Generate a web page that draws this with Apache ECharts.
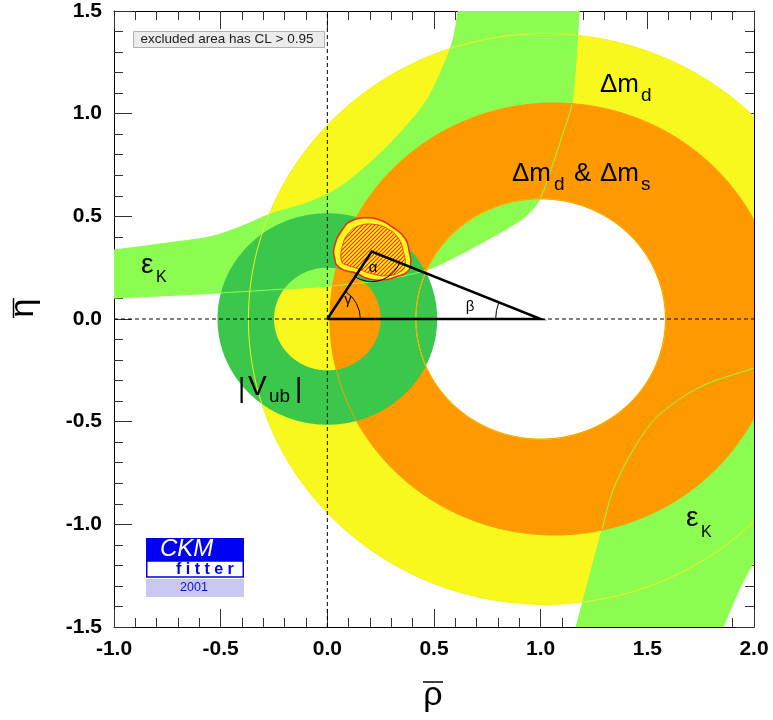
<!DOCTYPE html>
<html><head><meta charset="utf-8">
<script src="https://cdn.jsdelivr.net/npm/echarts@6/dist/echarts.min.js"></script>
<style>html,body{margin:0;padding:0;background:#fff}#c{width:773px;height:720px}</style>
</head><body><div id="c"></div>
<script>
// ---------- data (rho, eta) ----------
const rhoRange = [-1.0, 2.0];
const etaRange = [-1.5, 1.5];
// circles: [centre rho, centre eta, radius]
const dmdOuter = [1.02, 0, 1.39];
const dmdInner = [1.00, 0, 0.585];
const dmsOuter = [1.064, 0, 1.052];
const dmsInner = [1.00, 0, 0.585];
const vubOuter = [0, 0, 0.515];
const vubInner = [0, 0, 0.25];
// epsilon_K band, upper-left branch
const epsUpTop = [[-1.15,0.318],[-1.0,0.336],[-0.75,0.37],[-0.55,0.40],[-0.41,0.448],[-0.255,0.516],[-0.095,0.565],[0.06,0.643],[0.214,0.774],[0.341,0.906],[0.467,1.067],[0.542,1.227],[0.589,1.359],[0.613,1.5],[0.625,1.6]];
const epsUpBottom = [[-1.15,0.095],[-1.0,0.102],[-0.5,0.127],[-0.2,0.146],[0.013,0.161],[0.25,0.188],[0.466,0.239],[0.636,0.322],[0.842,0.44],[0.93,0.50],[0.997,0.585],[1.059,0.76],[1.105,0.906],[1.148,1.052],[1.181,1.5],[1.19,1.6]];
// epsilon_K band, lower-right branch
const epsLoTop = [[2.1,-0.203],[2.0,-0.239],[1.747,-0.331],[1.545,-0.477],[1.433,-0.638],[1.339,-0.833],[1.287,-1.028],[1.166,-1.5],[1.14,-1.6]];
const epsLoBottom = [[2.1,-1.02],[2.0,-1.184],[1.934,-1.31],[1.855,-1.5],[1.81,-1.6]];
// combined fit region
const blobOuter = [[0.036,0.287],[0.031,0.344],[0.075,0.442],[0.122,0.482],[0.185,0.493],[0.247,0.482],[0.302,0.450],[0.364,0.393],[0.384,0.328],[0.391,0.271],[0.375,0.230],[0.325,0.206],[0.263,0.190],[0.185,0.198],[0.138,0.223],[0.075,0.239],[0.044,0.263]];
const blobInner = [[0.067,0.279],[0.072,0.360],[0.106,0.425],[0.153,0.455],[0.216,0.461],[0.278,0.442],[0.333,0.393],[0.356,0.328],[0.364,0.263],[0.341,0.230],[0.278,0.211],[0.200,0.223],[0.138,0.247],[0.091,0.263]];
// unitarity triangle
const triOrigin = [0, 0];
const triApex = [0.208, 0.328];
const triRight = [1, 0];

// ---------- styles ----------
const YELLOW = '#f9f81e', LGREEN = '#8cfd50', DGREEN = '#3bc74b', ORANGE = '#fe9a00', RED = '#ee2a1c';
const FONT = 'Liberation Sans';

function circlePts(api, c, reverse) {
  const pts = [], N = 240;
  for (let i = 0; i <= N; i++) {
    const t = (reverse ? -1 : 1) * 2 * Math.PI * i / N;
    pts.push(api.coord([c[0] + c[2] * Math.cos(t), c[1] + c[2] * Math.sin(t)]));
  }
  return pts;
}
function toPath(pts) { return 'M' + pts.map(p => p[0].toFixed(2) + ' ' + p[1].toFixed(2)).join('L') + 'Z'; }
function annulus(api, outer, inner, color) {
  return { type: 'path', shape: { pathData: toPath(circlePts(api, outer, false)) + toPath(circlePts(api, inner, true)) }, style: { fill: color, stroke: null } };
}
function band(api, top, bottom, color) {
  const pts = top.map(p => api.coord(p)).concat(bottom.slice().reverse().map(p => api.coord(p)));
  return { type: 'polygon', shape: { points: pts, smooth: 0.3, smoothConstraint: false }, style: { fill: color, stroke: null } };
}
function curve(api, list, color) {
  return { type: 'polyline', shape: { points: list.map(p => api.coord(p)), smooth: 0.3 }, style: { fill: null, stroke: color, lineWidth: 1 } };
}
function ring(api, c, color) {
  return { type: 'polyline', shape: { points: circlePts(api, c, false) }, style: { fill: null, stroke: color, lineWidth: 1 } };
}
function layer(fn) {
  return {
    type: 'custom', data: [[0, 0]], silent: true, animation: false, clip: true,
    renderItem: (params, api) => {
      const cs = params.coordSys;
      return { type: 'group', clipPath: { type: 'rect', shape: { x: cs.x, y: cs.y, width: cs.width, height: cs.height } }, children: fn(api) };
    }
  };
}
function hatch() {
  const c = document.createElement('canvas'); c.width = 4; c.height = 4;
  const g = c.getContext('2d');
  g.fillStyle = YELLOW; g.fillRect(0, 0, 4, 4);
  g.strokeStyle = RED; g.lineWidth = 1.2; g.beginPath();
  g.moveTo(0, 4); g.lineTo(4, 0); g.moveTo(-1, 1); g.lineTo(1, -1); g.moveTo(3, 5); g.lineTo(5, 3);
  g.stroke();
  return c;
}
function arcBetween(api, centre, p1, p2, r) {
  const c = api.coord(centre), a = api.coord(p1), b = api.coord(p2);
  let a1 = Math.atan2(a[1] - c[1], a[0] - c[0]), a2 = Math.atan2(b[1] - c[1], b[0] - c[0]);
  let d = a2 - a1; while (d > Math.PI) d -= 2 * Math.PI; while (d < -Math.PI) d += 2 * Math.PI;
  if (d < 0) { a1 = a2; d = -d; }
  return { type: 'arc', shape: { cx: c[0], cy: c[1], r: r, startAngle: a1, endAngle: a1 + d, clockwise: true }, style: { fill: null, stroke: '#000', lineWidth: 1 } };
}
function txt(s, x, base, size, extra) {
  return { type: 'text', x: x, y: base - 0.35 * size, z: 100, silent: true,
    style: Object.assign({ text: s, fontSize: size, fontFamily: FONT, fill: '#000', align: 'left', verticalAlign: 'middle' }, extra || {}) };
}
function ctxt(s, x, y, size, extra) {
  return { type: 'text', x: x, y: y, z: 100, silent: true,
    style: Object.assign({ text: s, fontSize: size, fontFamily: FONT, fill: '#000', align: 'center', verticalAlign: 'middle' }, extra || {}) };
}

const hatchImg = hatch();
const chart = echarts.init(document.getElementById('c'), null, { renderer: 'canvas' });

const axisCommon = {
  type: 'value', interval: 0.5, splitLine: { show: false },
  axisLine: { show: true, onZero: false, lineStyle: { color: '#000', width: 1 } },
  axisTick: { show: true, inside: true, length: 18, lineStyle: { color: '#333', width: 1 } },
  minorTick: { show: true, splitNumber: 5, length: 9, lineStyle: { color: '#333', width: 1 } }
};
const labelCommon = { fontFamily: FONT, fontWeight: 'bold', fontSize: 21, color: '#000', margin: 12, formatter: v => v.toFixed(1) };

chart.setOption({
  animation: false,
  backgroundColor: '#fff',
  grid: { left: 114, top: 11, width: 640, height: 616 },
  xAxis: [
    Object.assign({}, axisCommon, { min: rhoRange[0], max: rhoRange[1], position: 'bottom', axisLabel: labelCommon }),
    Object.assign({}, axisCommon, { min: rhoRange[0], max: rhoRange[1], position: 'top', axisLabel: { show: false } })
  ],
  yAxis: [
    Object.assign({}, axisCommon, { min: etaRange[0], max: etaRange[1], position: 'left', axisLabel: labelCommon }),
    Object.assign({}, axisCommon, { min: etaRange[0], max: etaRange[1], position: 'right', axisLabel: { show: false } })
  ],
  series: [
    layer(api => [annulus(api, dmdOuter, dmdInner, YELLOW)]),
    layer(api => [band(api, epsUpTop, epsUpBottom, LGREEN), band(api, epsLoTop, epsLoBottom, LGREEN)]),
    layer(api => [annulus(api, dmsOuter, dmsInner, ORANGE)]),
    layer(api => [annulus(api, vubOuter, vubInner, DGREEN)]),
    layer(api => [
      ring(api, dmdOuter, '#f4f01c'), ring(api, dmdInner, YELLOW),
      curve(api, epsUpTop, LGREEN), curve(api, epsUpBottom, LGREEN),
      curve(api, epsLoTop, LGREEN), curve(api, epsLoBottom, LGREEN),
      ring(api, dmsOuter, ORANGE), ring(api, dmsInner, ORANGE)
    ]),
    layer(api => [
      { type: 'polygon', shape: { points: blobOuter.map(p => api.coord(p)), smooth: 0.5 }, style: { fill: YELLOW, stroke: RED, lineWidth: 1.5 } },
      { type: 'polygon', shape: { points: blobInner.map(p => api.coord(p)), smooth: 0.5 }, style: { fill: { image: hatchImg, repeat: 'repeat' }, stroke: RED, lineWidth: 0.8 } }
    ]),
    { type: 'line', data: [[0, etaRange[0]], [0, etaRange[1]]], symbol: 'none', silent: true,
      lineStyle: { color: '#000', width: 1, type: [4, 3] } },
    { type: 'line', data: [[rhoRange[0], 0], [rhoRange[1], 0]], symbol: 'none', silent: true,
      lineStyle: { color: '#000', width: 1, type: [4, 3] } },
    { type: 'line', data: [triOrigin, triApex, triRight, triOrigin], symbol: 'none', silent: true,
      lineStyle: { color: '#000', width: 2.5, join: 'miter' } },
    layer(api => [
      arcBetween(api, triOrigin, triRight, triApex, 33),
      arcBetween(api, triRight, triOrigin, triApex, 45),
      arcBetween(api, triApex, triOrigin, triRight, 30)
    ])
  ],
  graphic: [
    // CL box
    { type: 'rect', z: 100, shape: { x: 133.5, y: 31.5, width: 191, height: 16 }, style: { fill: '#ebebeb', stroke: '#b0b0b0', lineWidth: 1 }, silent: true },
    txt('excluded area has CL > 0.95', 140.5, 44.5, 13.5, { fill: '#222' }),
    // constraint labels
    txt('Δm', 600, 94, 26), txt('d', 641, 102, 19),
    txt('Δm', 512, 183, 26), txt('d', 554, 191.5, 19), txt('&', 574, 183, 26), txt('Δm', 600, 183, 26), txt('s', 641, 191.5, 19),
    txt('ε', 141, 275, 28), txt('K', 156, 283, 16),
    txt('ε', 686, 528, 28), txt('K', 701, 538, 16),
    txt('|', 238, 399, 28), txt('V', 248, 397, 28), txt('ub', 269, 403, 19), txt('|', 295, 399, 28),
    // angle labels
    ctxt('α', 373, 268, 15), ctxt('γ', 348, 300, 15), ctxt('β', 470, 307, 15),
    // axis titles
    ctxt('ρ', 433, 696, 34),
    { type: 'line', z: 100, silent: true, shape: { x1: 423, y1: 682, x2: 443, y2: 682 }, style: { stroke: '#000', lineWidth: 1.5 } },
    { type: 'text', x: 24, y: 308, rotation: Math.PI / 2, z: 100, silent: true, style: { text: 'η', fontSize: 34, fontFamily: FONT, fill: '#000', align: 'center', verticalAlign: 'middle' } },
    { type: 'line', z: 100, silent: true, shape: { x1: 13.5, y1: 298, x2: 13.5, y2: 318 }, style: { stroke: '#000', lineWidth: 1.5 } },
    // CKMfitter logo
    { type: 'rect', z: 100, shape: { x: 146, y: 538, width: 98, height: 23 }, style: { fill: '#0000f5' }, silent: true },
    { type: 'rect', z: 100, shape: { x: 146.75, y: 561, width: 96.5, height: 16 }, style: { fill: '#fff', stroke: '#0000f5', lineWidth: 1.5 }, silent: true },
    { type: 'rect', z: 100, shape: { x: 146, y: 579, width: 98, height: 18 }, style: { fill: '#c8c8f0' }, silent: true },
    txt('CKM', 160, 558, 24, { fill: '#fff', fontStyle: 'italic' }),
    txt('f i t t e r', 176, 575, 16, { fill: '#0000f5', fontWeight: 'bold' }),
    ctxt('2001', 194, 588, 12.5, { fill: '#1010e0' })
  ]
});
</script>
</body></html>
